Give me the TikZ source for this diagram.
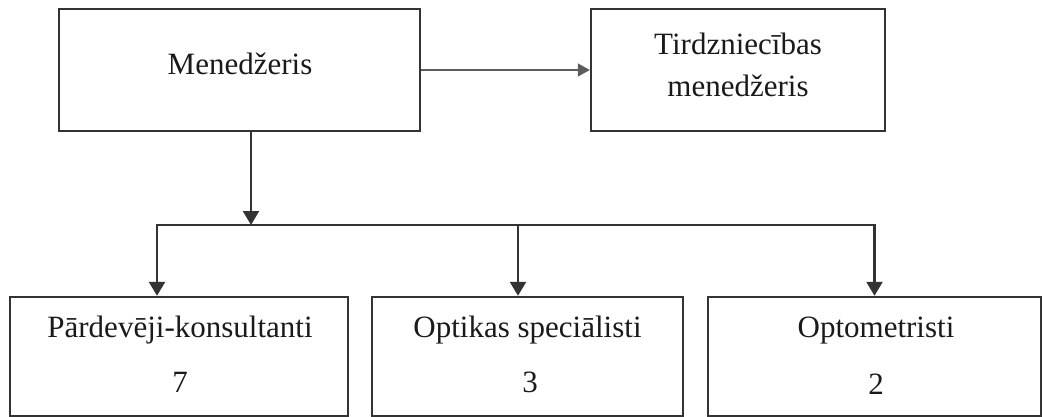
\documentclass[tikz,border=0pt]{standalone}
\usepackage{fontspec}
\setmainfont{Liberation Serif}
\usetikzlibrary{arrows.meta}
\definecolor{ink}{HTML}{333333}
\definecolor{txt}{HTML}{1a1a1a}
\begin{document}
\begin{tikzpicture}[x=1pt,y=-1pt,
  box/.style={draw=ink,line width=2.4pt,minimum width=#1,inner sep=0pt},
  lbl/.style={anchor=base,text=txt,font=\fontsize{31}{42}\selectfont,inner sep=0pt},
  conn/.style={draw=ink,line width=2.4pt},
  arr/.style={conn,-{Triangle[width=16pt,length=14pt]}},
  thin/.style={draw=ink!80,line width=1.3pt,-{Triangle[width=13pt,length=12pt]}}]
\useasboundingbox (0,0) rectangle (1043,417);
% boxes
\node[box=361pt,minimum height=122pt] (m)  at (239.5,70) {};
\node[box=294pt,minimum height=122pt] (t)  at (738,70) {};
\node[box=338pt,minimum height=119pt] (p)  at (179,356.5) {};
\node[box=311pt,minimum height=119pt] (o)  at (527.5,356.5) {};
\node[box=333pt,minimum height=119pt] (op) at (874.5,356.5) {};
% labels
\node[lbl] (mt)  at (240,75) {Menedžeris};
\node[lbl] (tt1) at (738,55) {Tirdzniecības};
\node[lbl] (tt2) at (738,97) {menedžeris};
\node[lbl] (pt1) at (180,337) {Pārdevēji-konsultanti};
\node[lbl] (pt2) at (180,392) {7};
\node[lbl] (ot1) at (527.5,337) {Optikas speciālisti};
\node[lbl] (ot2) at (530,392) {3};
\node[lbl] (opt1) at (876,337) {Optometristi};
\node[lbl] (opt2) at (876,394) {2};
% connectors
\coordinate (bar) at (251,225);
\draw[thin] (m.east) -- (t.west);
\draw[arr] ([xshift=11.5pt]m.south) -- (bar);
\draw[arr] (bar) -| ([xshift=-22pt]p.north);
\draw[arr] (bar) -| (op.north);
\draw[arr] ([xshift=-9.5pt]o.north |- bar) -- ([xshift=-9.5pt]o.north);
\end{tikzpicture}
\end{document}
